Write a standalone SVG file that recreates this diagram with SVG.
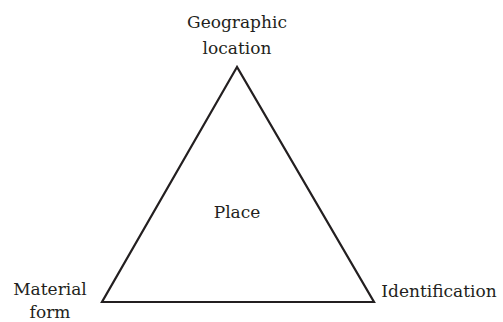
<svg xmlns="http://www.w3.org/2000/svg" width="503" height="322" viewBox="0 0 503 322">
<style>
text{font-family:'DejaVu Serif',serif;font-size:17px;fill:#231f20;text-anchor:middle}
.edge{stroke:#231f20;stroke-width:2.2;fill:none;stroke-linejoin:miter}
</style>
<rect width="503" height="322" fill="#fff"/>
<g id="connectors">
<polygon class="edge" points="237,67 102,302 374,302"/>
</g>
<g id="node-geographic">
<text x="237" y="28">Geographic</text>
<text x="237" y="54">location</text>
</g>
<g id="node-place">
<text x="237" y="218">Place</text>
</g>
<g id="node-material">
<text x="50" y="295">Material</text>
<text x="50" y="318">form</text>
</g>
<g id="node-identification">
<text x="439" y="297">Identification</text>
</g>
</svg>
